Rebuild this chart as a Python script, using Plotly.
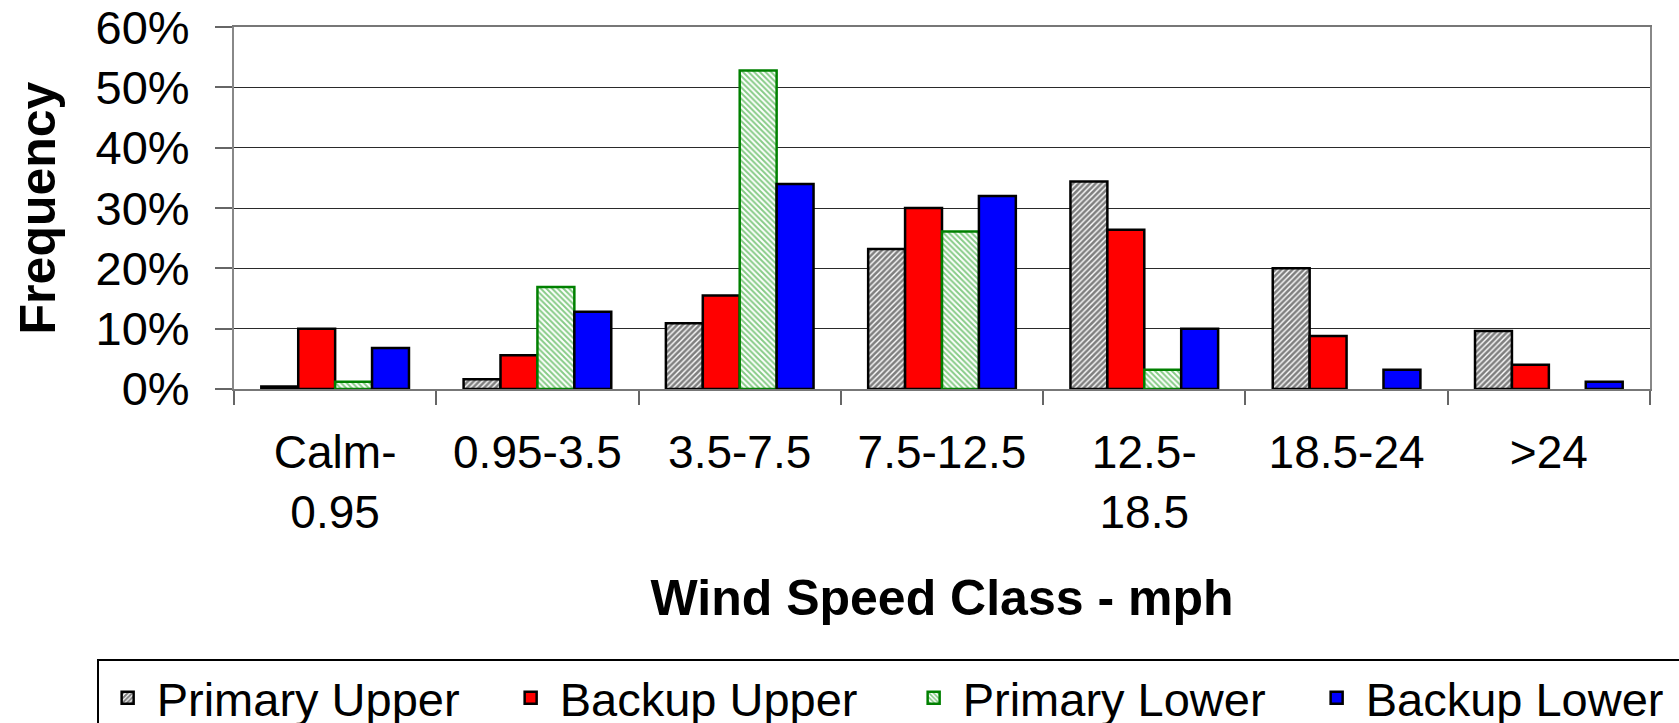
import plotly.graph_objects as go

categories = ["Calm-<br>0.95", "0.95-3.5", "3.5-7.5", "7.5-12.5", "12.5-<br>18.5", "18.5-24", ">24"]
primary_upper = [0.4, 1.6, 10.9, 23.2, 34.4, 20.0, 9.6]
backup_upper = [10.0, 5.6, 15.5, 30.0, 26.4, 8.8, 4.0]
primary_lower = [1.2, 16.9, 52.8, 26.1, 3.2, None, None]
backup_lower = [6.8, 12.8, 34.0, 32.0, 10.0, 3.2, 1.2]
y_ticks = [0, 10, 20, 30, 40, 50, 60]

FONT = "Liberation Sans, Arial, sans-serif"

fig = go.Figure()
fig.add_trace(go.Bar(
    name="Primary Upper", x=categories, y=primary_upper,
    marker=dict(color="#ffffff", line=dict(color="black", width=2.5),
                pattern=dict(shape="/", fgcolor="#000000", bgcolor="#ffffff",
                             size=4, solidity=0.65)),
))
fig.add_trace(go.Bar(
    name="Backup Upper", x=categories, y=backup_upper,
    marker=dict(color="#ff0000", line=dict(color="black", width=2.5)),
))
fig.add_trace(go.Bar(
    name="Primary Lower", x=categories, y=primary_lower,
    marker=dict(color="#ffffff", line=dict(color="#008000", width=2.5),
                pattern=dict(shape="\\", fgcolor="#109810", bgcolor="#ffffff",
                             size=4, solidity=0.5)),
))
fig.add_trace(go.Bar(
    name="Backup Lower", x=categories, y=backup_lower,
    marker=dict(color="#0000ff", line=dict(color="black", width=2.5)),
))

fig.update_layout(
    width=1679, height=723,
    margin=dict(l=234, r=29, t=27, b=334, autoexpand=False),
    paper_bgcolor="white", plot_bgcolor="white",
    barmode="group", bargap=0.27, bargroupgap=0,
    font=dict(family=FONT, color="black", size=46),
    showlegend=True,
    legend=dict(
        orientation="h", x=-0.097, y=-0.745, xanchor="left", yanchor="top",
        bordercolor="black", borderwidth=2, bgcolor="white",
        font=dict(family=FONT, size=47, color="black"),
        entrywidth=340, entrywidthmode="pixels",
        itemwidth=48, traceorder="normal",
    ),
)

fig.update_xaxes(
    type="category",
    tickson="boundaries", ticks="outside", ticklen=14, tickcolor="#666", tickwidth=1.5,
    showline=True, linecolor="#777", linewidth=2, mirror=True,
    showgrid=False,
    tickfont=dict(family=FONT, size=46, color="black"),
    ticklabelstandoff=22,
    title=dict(text="<b>Wind Speed Class - mph</b>", font=dict(family=FONT, size=50, color="black"),
               standoff=43),
)
fig.update_yaxes(
    range=[0, 60.02], tickmode="array", tickvals=y_ticks,
    ticktext=[f"{v}%" for v in y_ticks],
    ticklabeloverflow="allow",
    ticks="outside", ticklen=17, tickcolor="#666", tickwidth=1.5,
    showline=True, linecolor="#888", linewidth=2, mirror=True,
    showgrid=True, gridcolor="#2a2a2a", gridwidth=1.2,
    zeroline=False,
    tickfont=dict(family=FONT, size=47, color="black"),
    ticklabelstandoff=16,
    title=dict(text="<b>Frequency</b>", font=dict(family=FONT, size=50, color="black"),
               standoff=24),
)

fig.write_html("out.html")
